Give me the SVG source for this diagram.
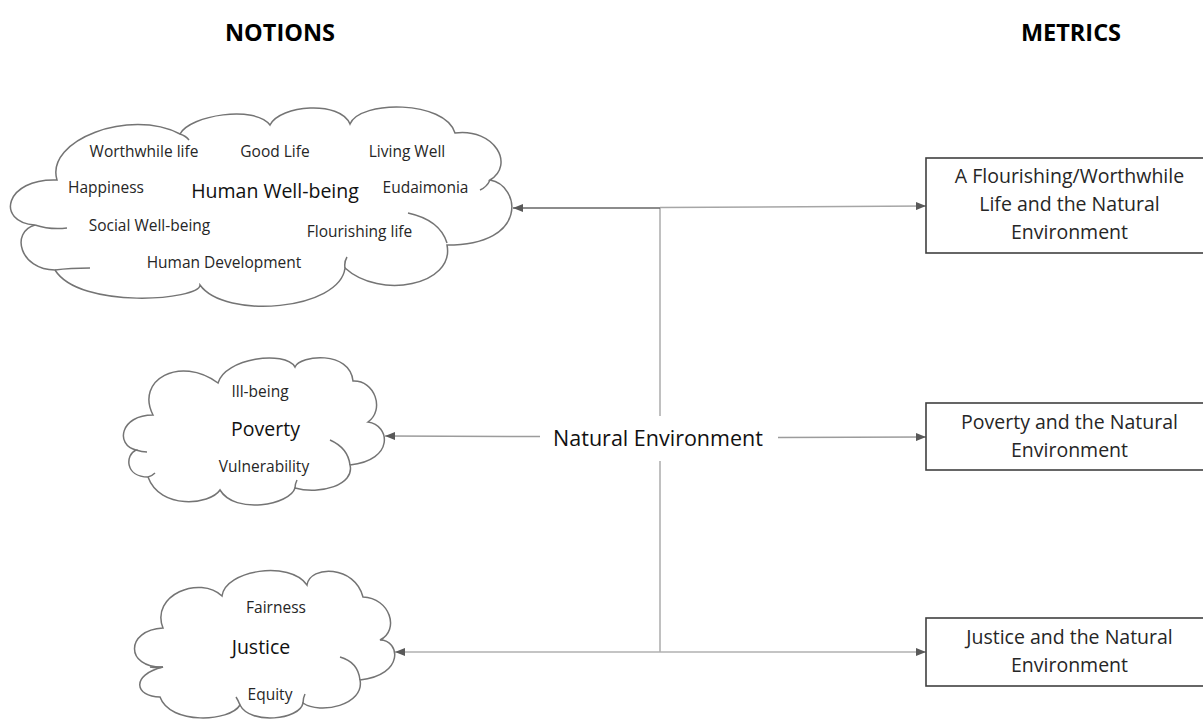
<svg xmlns="http://www.w3.org/2000/svg" width="1203" height="722" viewBox="0 0 1203 722">
<style>
text{font-family:"Open Sans","Noto Sans","Liberation Sans",sans-serif;text-anchor:middle;}
.title{font-weight:bold;font-size:23.5px;fill:#000;}
.cloud{fill:#fff;stroke:#747474;stroke-width:1.5;}
.hook{fill:none;stroke:#747474;stroke-width:1.5;}
.sm{font-size:15.5px;fill:#262626;}
.big{font-size:19.5px;fill:#111;}
.box{fill:#fff;stroke:#404040;stroke-width:1.6;}
.bt{font-size:19.5px;fill:#262626;}
.ne{font-size:21.5px;fill:#111;}
.c{fill:none;stroke-width:1.5;}
</style>
<defs>
<marker id="ah" viewBox="0 0 10 8" refX="10" refY="4" markerWidth="10" markerHeight="8" markerUnits="userSpaceOnUse" orient="auto">
<path d="M0,0 L10,4 L0,8 z" fill="#595959"/>
</marker>
</defs>
<rect width="1203" height="722" fill="#fff"/>
<text class="title" x="280" y="41">NOTIONS</text>
<text class="title" x="1071" y="41">METRICS</text>

<g id="connectors">
<line class="c" x1="660" y1="208" x2="660" y2="416" stroke="#ababab"/>
<line class="c" x1="660" y1="461" x2="660" y2="652" stroke="#ababab"/>
<line class="c" x1="660" y1="208" x2="513" y2="208" stroke="#666" marker-end="url(#ah)"/>
<line class="c" x1="660" y1="207.5" x2="926" y2="206" stroke="#a6a6a6" marker-end="url(#ah)"/>
<line class="c" x1="540" y1="436.5" x2="385" y2="436" stroke="#9c9c9c" marker-end="url(#ah)"/>
<line class="c" x1="778" y1="437.5" x2="926" y2="437" stroke="#9c9c9c" marker-end="url(#ah)"/>
<line class="c" x1="660" y1="652" x2="395" y2="652" stroke="#b0b0b0" marker-end="url(#ah)"/>
<line class="c" x1="660" y1="652" x2="926" y2="652" stroke="#b0b0b0" marker-end="url(#ah)"/>
</g>

<g id="natural-environment">
<text class="ne" x="658" y="446">Natural Environment</text>
</g>

<g id="human-wellbeing">
<path class="cloud" d="M57,180 C45,140 130,108 180,134 C190,115 255,105 270,125 C280,105 340,100 350,124 C360,100 445,100 455,133 C495,128 515,165 490,180 C520,185 530,245 447,245 C455,285 380,300 345,268 C340,310 225,320 200,285 C200,300 80,310 55,270 C20,270 10,232 35,225 C-5,222 5,178 57,180 Z"/>
<path class="hook" d="M408,213 Q440,220 447,243 M35,225 Q50,230 67,228 M55,270 Q70,268 90,268 M180,134 Q186,136 189,140 M490,180 Q487,187 480,190 M345,268 Q344,262 347,257"/>
<text class="sm" x="144" y="157">Worthwhile life</text>
<text class="sm" x="275" y="157">Good Life</text>
<text class="sm" x="407" y="157">Living Well</text>
<text class="sm" x="106" y="193">Happiness</text>
<text class="big" x="275" y="198">Human Well-being</text>
<text class="sm" x="425.5" y="193">Eudaimonia</text>
<text class="sm" x="149.5" y="231">Social Well-being</text>
<text class="sm" x="359.5" y="237">Flourishing life</text>
<text class="sm" x="224" y="268">Human Development</text>
</g>

<g id="poverty">
<path class="cloud" d="M153,415 C135,380 180,355 218,383 C225,358 285,350 295,367 C300,355 350,350 353,381 C375,380 385,410 368,422 C390,425 395,460 350,465 C355,485 320,495 295,488 C290,505 235,515 220,490 C210,505 160,510 148,477 C125,477 125,455 136,450 C115,445 120,415 153,415 Z"/>
<path class="hook" d="M330,440 Q348,448 350,465 M136,450 Q142,452 147,452 M148,477 Q152,476 155,473 M295,488 Q295,484 297,480"/>
<text class="sm" x="260" y="397">Ill-being</text>
<text class="big" x="265.5" y="436">Poverty</text>
<text class="sm" x="264" y="472">Vulnerability</text>
</g>

<g id="justice">
<path class="cloud" d="M163,628 C150,595 200,575 222,596 C225,570 290,560 307,585 C310,565 355,565 363,597 C390,598 400,630 380,640 C400,640 405,675 360,680 C365,705 320,715 303,703 C300,720 250,725 240,705 C230,722 170,725 160,697 C135,697 130,675 163,667 C125,668 125,630 163,628 Z"/>
<path class="hook" d="M340,657 Q358,662 360,680 M163,667 Q158,668 150,667 M303,703 Q303,698 305,694 M240,705 Q238,700 236,697"/>
<text class="sm" x="276" y="613">Fairness</text>
<text class="big" x="261" y="654">Justice</text>
<text class="sm" x="270" y="700">Equity</text>
</g>

<g id="metric-flourishing">
<rect class="box" x="926" y="158" width="290" height="95"/>
<text class="bt" x="1069.5" y="183">A Flourishing/Worthwhile</text>
<text class="bt" x="1069.5" y="211">Life and the Natural</text>
<text class="bt" x="1069.5" y="239">Environment</text>
</g>

<g id="metric-poverty">
<rect class="box" x="926" y="403" width="290" height="67"/>
<text class="bt" x="1069.5" y="429">Poverty and the Natural</text>
<text class="bt" x="1069.5" y="457">Environment</text>
</g>

<g id="metric-justice">
<rect class="box" x="926" y="618" width="290" height="68"/>
<text class="bt" x="1069.5" y="644">Justice and the Natural</text>
<text class="bt" x="1069.5" y="672">Environment</text>
</g>
</svg>
